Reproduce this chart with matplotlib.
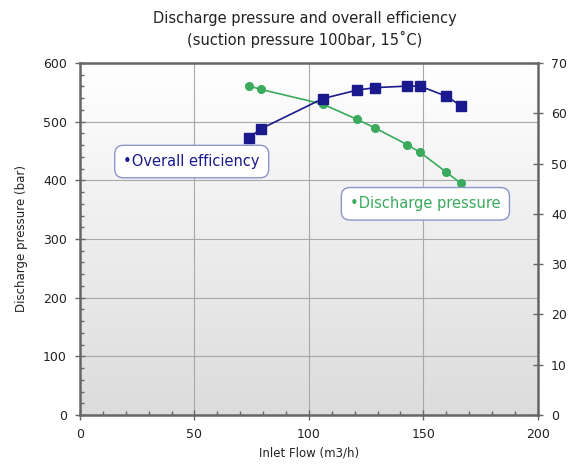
import numpy as np
import matplotlib
matplotlib.use("Agg")
import matplotlib.pyplot as plt
from matplotlib.ticker import MultipleLocator

# data
flow = [73.8, 79.0, 106.0, 121.0, 129.0, 142.8, 148.5, 160.0, 166.4]
efficiency = [55.1, 56.9, 62.9, 64.6, 65.1, 65.4, 65.4, 63.4, 61.5]
pressure = [561, 555, 530, 504, 489, 461, 448, 414, 395]

blue = '#1a1a8c'
green = '#3aaa5c'
axcol = '#666666'

plt.rcParams['font.family'] = ['DejaVu Sans']

fig = plt.figure(figsize=(5.68, 4.70), dpi=100)
ax = fig.add_axes([0.1408, 0.117, 0.806, 0.749])

# white-to-grey gradient background
grad = np.linspace(1, 0, 256).reshape(-1, 1)
ax.imshow(grad, extent=[0, 1, 0, 1], transform=ax.transAxes, aspect='auto',
          cmap=matplotlib.colors.LinearSegmentedColormap.from_list('g', ['#dcdcdc', '#ffffff']),
          zorder=0)

ax.set_xlim(0, 200)
ax.set_ylim(0, 600)
ax.xaxis.set_major_locator(MultipleLocator(50))
ax.xaxis.set_minor_locator(MultipleLocator(10))
ax.yaxis.set_major_locator(MultipleLocator(100))
ax.yaxis.set_minor_locator(MultipleLocator(20))
ax.grid(True, which='major', color='#a8a8a8', lw=0.8, zorder=1)
ax.set_axisbelow(True)
ax.tick_params(which='major', direction='inout', length=7, width=1, color=axcol,
               labelsize=9, labelcolor='#222222', pad=6)
ax.tick_params(which='minor', direction='in', length=3, width=1, color=axcol)
for s in ax.spines.values():
    s.set_color(axcol)
    s.set_linewidth(1.8)

ax.plot(flow, pressure, color=green, lw=1.2, marker='o', ms=5.5, zorder=3)

ax2 = ax.twinx()
ax2.set_ylim(0, 70)
ax2.yaxis.set_major_locator(MultipleLocator(10))
ax2.tick_params(direction='inout', length=7, width=1, color=axcol,
                labelsize=9, labelcolor='#222222', pad=6)
for s in ax2.spines.values():
    s.set_visible(False)
ax2.plot(flow, efficiency, color=blue, lw=1.2, marker='s', ms=6.5, zorder=3)

ax.set_xlabel('Inlet Flow (m3/h)', fontsize=8.5, color='#222222', labelpad=4)
ax.set_ylabel('Discharge pressure (bar)', fontsize=8.5, color='#222222', labelpad=11)
fig.text(0.537, 0.937, 'Discharge pressure and overall efficiency\n(suction pressure 100bar, 15\u02daC)',
         ha='center', va='center', fontsize=10.5, color='#222222', linespacing=1.3)

ax.text(19, 432, '\u2022Overall efficiency', color=blue, fontsize=10.5, va='center',
        bbox=dict(boxstyle='round,pad=0.6', fc='white', ec='#8c96c8', lw=1), zorder=5)
ax.text(118, 360, '\u2022Discharge pressure', color=green, fontsize=10.5, va='center',
        bbox=dict(boxstyle='round,pad=0.6', fc='white', ec='#8c96c8', lw=1), zorder=5)

fig.savefig('out.png', dpi=100)
